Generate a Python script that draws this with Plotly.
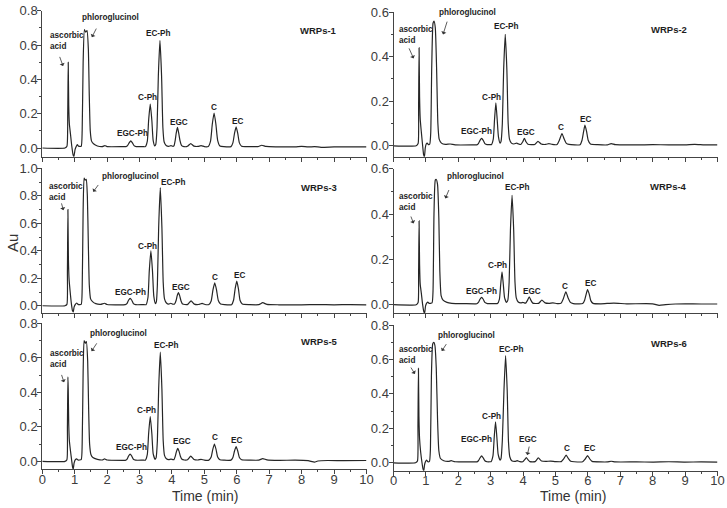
import plotly.graph_objects as go

# ---------------- data ----------------
panel_names = ["WRPs-1", "WRPs-2", "WRPs-3", "WRPs-4", "WRPs-5", "WRPs-6"]
peak_names = ["EGC-Ph", "C-Ph", "EC-Ph", "EGC", "C", "EC"]

# chromatogram samples: (time in min, absorbance in Au)
trace1 = [(0, 0), (0.70, 0), (0.76, 0.01), (0.785, 0.2), (0.80, 0.50), (0.815, 0.25), (0.835, 0.14), (0.87, 0.08),
          (0.91, 0.01), (0.95, -0.04), (0.975, -0.05), (1.01, -0.01), (1.05, 0.01), (1.08, 0.02), (1.12, 0.01), (1.20, 0.01),
          (1.23, 0.1), (1.26, 0.5), (1.30, 0.69), (1.34, 0.675), (1.38, 0.685), (1.42, 0.58), (1.45, 0.3), (1.48, 0.1),
          (1.52, 0.04), (1.58, 0.025), (1.7, 0.012), (1.85, 0.008), (1.93, 0.014), (2.0, 0.008), (2.5, 0.008),
          (2.58, 0.008), (2.63, 0.014), (2.68, 0.03), (2.73, 0.042), (2.78, 0.03), (2.83, 0.014), (2.90, 0.008), (3.1, 0.008),
          (3.18, 0.008), (3.24, 0.04), (3.28, 0.16), (3.33, 0.256), (3.38, 0.16), (3.42, 0.045), (3.47, 0.012), (3.50, 0.02),
          (3.54, 0.12), (3.58, 0.42), (3.63, 0.627), (3.68, 0.42), (3.72, 0.12), (3.76, 0.035), (3.82, 0.015), (3.9, 0.01),
          (3.97, 0.014), (4.03, 0.01), (4.06, 0.012), (4.10, 0.045), (4.13, 0.085), (4.17, 0.12), (4.21, 0.085), (4.25, 0.042),
          (4.30, 0.014), (4.37, 0.008), (4.48, 0.01), (4.58, 0.026), (4.68, 0.011), (4.80, 0.009), (4.90, 0.014), (5.0, 0.008),
          (5.12, 0.009), (5.19, 0.04), (5.245, 0.14), (5.30, 0.204), (5.355, 0.14), (5.41, 0.045), (5.48, 0.012), (5.6, 0.008),
          (5.82, 0.008), (5.88, 0.03), (5.93, 0.085), (5.98, 0.123), (6.03, 0.085), (6.08, 0.03), (6.15, 0.01), (6.4, 0.008),
          (6.65, 0.008), (6.77, 0.016), (6.9, 0.009), (7.2, 0.007), (7.8, 0.007), (8.0, 0.01), (8.2, 0.006), (8.4, 0.008),
          (8.6, 0.004), (9.0, 0.006), (9.5, 0.006), (10.0, 0.006)]

trace2 = [(0, 0), (0.70, 0), (0.76, 0.01), (0.775, 0.18), (0.79, 0.44), (0.805, 0.22), (0.825, 0.12), (0.86, 0.06),
          (0.90, 0.0), (0.93, -0.04), (0.955, -0.05), (0.98, -0.01), (1.01, 0.008), (1.04, 0.012), (1.08, 0.005), (1.12, 0.008),
          (1.15, 0.06), (1.18, 0.35), (1.22, 0.55), (1.25, 0.56), (1.29, 0.53), (1.33, 0.35), (1.37, 0.1), (1.41, 0.03),
          (1.48, 0.012), (1.6, 0.006), (1.75, 0.008), (1.9, 0.004), (2.5, 0.004),
          (2.57, 0.004), (2.62, 0.01), (2.67, 0.024), (2.72, 0.033), (2.77, 0.024), (2.82, 0.01), (2.89, 0.005), (3.0, 0.005),
          (3.02, 0.005), (3.08, 0.03), (3.12, 0.12), (3.16, 0.193), (3.20, 0.12), (3.24, 0.04), (3.29, 0.012), (3.32, 0.02),
          (3.36, 0.10), (3.40, 0.34), (3.45, 0.50), (3.50, 0.34), (3.54, 0.10), (3.58, 0.03), (3.64, 0.012), (3.72, 0.008),
          (3.80, 0.012), (3.86, 0.008), (3.93, 0.006), (3.99, 0.018), (4.04, 0.033), (4.09, 0.018), (4.15, 0.007),
          (4.36, 0.006), (4.46, 0.02), (4.56, 0.008), (4.7, 0.006), (4.8, 0.01), (4.9, 0.006),
          (5.05, 0.006), (5.12, 0.025), (5.20, 0.055), (5.27, 0.03), (5.33, 0.012), (5.42, 0.006),
          (5.76, 0.005), (5.82, 0.025), (5.87, 0.065), (5.91, 0.093), (5.96, 0.065), (6.01, 0.025), (6.08, 0.008), (6.3, 0.005),
          (6.6, 0.004), (6.72, 0.01), (6.85, 0.005), (7.5, 0.004), (8.0, 0.005), (8.5, 0.004), (9.0, 0.004), (9.3, 0.006),
          (9.6, 0.004), (10.0, 0.004)]

trace3 = [(0, 0), (0.70, 0), (0.76, 0.01), (0.775, 0.25), (0.79, 0.70), (0.805, 0.35), (0.825, 0.2), (0.86, 0.1),
          (0.90, 0.01), (0.93, -0.035), (0.955, -0.045), (0.98, -0.01), (1.02, 0.01), (1.06, 0.02), (1.10, 0.01), (1.20, 0.01),
          (1.23, 0.12), (1.26, 0.7), (1.29, 0.93), (1.32, 0.915), (1.355, 0.92), (1.39, 0.8), (1.42, 0.45), (1.45, 0.15),
          (1.49, 0.05), (1.55, 0.03), (1.65, 0.015), (1.8, 0.01), (1.92, 0.018), (2.0, 0.009), (2.5, 0.007),
          (2.56, 0.008), (2.61, 0.016), (2.66, 0.04), (2.71, 0.053), (2.76, 0.04), (2.81, 0.016), (2.88, 0.008), (3.1, 0.008),
          (3.2, 0.008), (3.26, 0.06), (3.30, 0.25), (3.35, 0.40), (3.40, 0.25), (3.44, 0.07), (3.49, 0.015), (3.52, 0.03),
          (3.55, 0.15), (3.59, 0.57), (3.64, 0.86), (3.69, 0.57), (3.73, 0.17), (3.77, 0.05), (3.83, 0.02), (3.9, 0.012),
          (3.96, 0.018), (4.02, 0.012), (4.08, 0.012), (4.13, 0.04), (4.16, 0.072), (4.2, 0.095), (4.24, 0.072), (4.28, 0.035),
          (4.33, 0.012), (4.4, 0.009), (4.49, 0.01), (4.59, 0.036), (4.69, 0.012), (4.82, 0.009), (4.93, 0.017), (5.02, 0.009),
          (5.14, 0.009), (5.21, 0.035), (5.265, 0.115), (5.32, 0.167), (5.375, 0.115), (5.43, 0.038), (5.5, 0.012), (5.62, 0.008),
          (5.84, 0.008), (5.9, 0.04), (5.95, 0.125), (6.0, 0.18), (6.05, 0.125), (6.1, 0.04), (6.17, 0.012), (6.4, 0.008),
          (6.68, 0.008), (6.8, 0.022), (6.93, 0.01), (7.3, 0.007), (8.0, 0.007), (8.5, 0.008), (9.0, 0.007), (9.5, 0.008),
          (10.0, 0.007)]

trace4 = [(0, 0), (0.70, 0), (0.76, 0.01), (0.775, 0.14), (0.79, 0.37), (0.805, 0.18), (0.825, 0.09), (0.86, 0.05),
          (0.90, 0.0), (0.935, -0.03), (0.96, -0.038), (0.99, -0.005), (1.03, 0.008), (1.06, 0.012), (1.10, 0.006), (1.19, 0.008),
          (1.22, 0.06), (1.25, 0.4), (1.29, 0.55), (1.32, 0.553), (1.36, 0.53), (1.40, 0.38), (1.43, 0.15), (1.47, 0.04),
          (1.53, 0.02), (1.65, 0.01), (1.8, 0.006), (2.0, 0.005), (2.5, 0.004),
          (2.57, 0.004), (2.62, 0.01), (2.67, 0.024), (2.72, 0.032), (2.77, 0.024), (2.82, 0.01), (2.9, 0.005), (3.1, 0.005),
          (3.21, 0.005), (3.27, 0.025), (3.31, 0.09), (3.35, 0.145), (3.39, 0.09), (3.43, 0.03), (3.49, 0.01), (3.53, 0.02),
          (3.57, 0.1), (3.61, 0.33), (3.66, 0.483), (3.71, 0.33), (3.75, 0.1), (3.79, 0.03), (3.85, 0.012), (3.93, 0.008),
          (4.0, 0.01), (4.06, 0.007), (4.08, 0.007), (4.14, 0.02), (4.19, 0.035), (4.24, 0.02), (4.3, 0.007),
          (4.48, 0.006), (4.58, 0.02), (4.68, 0.008), (4.8, 0.006), (4.92, 0.008), (5.05, 0.005),
          (5.17, 0.006), (5.24, 0.025), (5.32, 0.057), (5.39, 0.03), (5.46, 0.01), (5.55, 0.005),
          (5.84, 0.005), (5.9, 0.02), (5.95, 0.048), (5.99, 0.067), (6.04, 0.048), (6.09, 0.018), (6.16, 0.006), (6.4, 0.004),
          (6.8, 0.007), (7.2, 0.004), (8.0, 0.004), (8.2, -0.003), (8.4, 0.0), (8.7, 0.003), (9.0, 0.004), (9.5, 0.003),
          (10.0, 0.003)]

trace5 = [(0, 0), (0.70, 0), (0.76, 0.01), (0.775, 0.2), (0.79, 0.49), (0.80, 0.42), (0.815, 0.22), (0.835, 0.12),
          (0.87, 0.06), (0.91, 0.0), (0.935, -0.035), (0.955, -0.045), (0.98, -0.01), (1.02, 0.01), (1.06, 0.015), (1.1, 0.008),
          (1.2, 0.01), (1.23, 0.1), (1.26, 0.52), (1.29, 0.70), (1.325, 0.685), (1.36, 0.695), (1.40, 0.58), (1.43, 0.3),
          (1.46, 0.1), (1.5, 0.04), (1.56, 0.022), (1.7, 0.012), (1.85, 0.008), (1.92, 0.014), (2.0, 0.008), (2.5, 0.006),
          (2.56, 0.006), (2.61, 0.012), (2.66, 0.03), (2.71, 0.042), (2.76, 0.03), (2.81, 0.012), (2.88, 0.007), (3.1, 0.007),
          (3.18, 0.007), (3.24, 0.04), (3.28, 0.16), (3.33, 0.26), (3.38, 0.16), (3.42, 0.045), (3.48, 0.012), (3.51, 0.02),
          (3.55, 0.12), (3.59, 0.42), (3.64, 0.633), (3.69, 0.42), (3.73, 0.12), (3.77, 0.035), (3.83, 0.015), (3.9, 0.01),
          (3.97, 0.013), (4.03, 0.01), (4.06, 0.01), (4.11, 0.035), (4.14, 0.058), (4.18, 0.075), (4.22, 0.058), (4.26, 0.03),
          (4.31, 0.012), (4.38, 0.008), (4.48, 0.009), (4.58, 0.03), (4.68, 0.011), (4.8, 0.008), (4.9, 0.012), (5.0, 0.007),
          (5.14, 0.007), (5.21, 0.025), (5.26, 0.07), (5.31, 0.10), (5.36, 0.07), (5.41, 0.025), (5.48, 0.009), (5.6, 0.007),
          (5.82, 0.007), (5.88, 0.022), (5.93, 0.06), (5.98, 0.085), (6.03, 0.06), (6.08, 0.022), (6.15, 0.009), (6.4, 0.007),
          (6.68, 0.007), (6.8, 0.016), (6.93, 0.009), (7.3, 0.006), (7.8, 0.007), (8.2, 0.004), (8.4, -0.004), (8.5, 0.002),
          (8.8, 0.005), (9.3, 0.004), (10.0, 0.005)]

trace6 = [(0, 0), (0.68, 0), (0.74, 0.01), (0.755, 0.22), (0.77, 0.548), (0.785, 0.27), (0.805, 0.14), (0.84, 0.06),
          (0.88, 0.0), (0.91, -0.035), (0.935, -0.046), (0.96, -0.01), (0.99, 0.008), (1.02, 0.015), (1.06, 0.006), (1.11, 0.008),
          (1.14, 0.08), (1.17, 0.5), (1.21, 0.69), (1.245, 0.70), (1.28, 0.68), (1.32, 0.55), (1.36, 0.25), (1.40, 0.07),
          (1.45, 0.025), (1.55, 0.012), (1.7, 0.008), (1.78, 0.012), (1.9, 0.006), (2.5, 0.005),
          (2.57, 0.005), (2.62, 0.012), (2.67, 0.028), (2.72, 0.04), (2.77, 0.028), (2.82, 0.012), (2.89, 0.006), (3.0, 0.006),
          (3.01, 0.006), (3.07, 0.04), (3.11, 0.15), (3.15, 0.238), (3.19, 0.15), (3.23, 0.05), (3.29, 0.015), (3.32, 0.025),
          (3.36, 0.13), (3.41, 0.42), (3.46, 0.622), (3.51, 0.42), (3.55, 0.12), (3.59, 0.035), (3.65, 0.012), (3.75, 0.008),
          (3.82, 0.012), (3.9, 0.007), (3.99, 0.006), (4.05, 0.018), (4.10, 0.03), (4.15, 0.018), (4.21, 0.007),
          (4.37, 0.007), (4.47, 0.028), (4.57, 0.01), (4.7, 0.008), (4.85, 0.01), (5.0, 0.007),
          (5.18, 0.007), (5.25, 0.022), (5.33, 0.045), (5.4, 0.024), (5.47, 0.009), (5.58, 0.006),
          (5.84, 0.006), (5.91, 0.02), (5.99, 0.042), (6.06, 0.022), (6.13, 0.008), (6.4, 0.005),
          (6.6, 0.005), (6.72, 0.009), (6.85, 0.005), (7.5, 0.005), (8.0, 0.004), (8.5, 0.006), (9.0, 0.004), (9.5, 0.005),
          (10.0, 0.004)]

traces = [trace1, trace2, trace3, trace4, trace5, trace6]

x_ticks = [0, 1, 2, 3, 4, 5, 6, 7, 8, 9, 10]
y_tops = [0.8, 0.6, 1.0, 0.6, 0.8, 0.8]

# ---------------- layout spec ----------------
y_bottoms = [-0.0507, -0.049, -0.055, -0.038, -0.046, -0.046]
col_dom = [[42.3 / 727, 366.5 / 727], [393.5 / 727, 717.5 / 727]]
row_px = [(10.7, 156.7), (12.0, 156.7), (168.3, 313.3), (168.7, 313.3), (323.3, 469.3), (325.0, 470.7)]

place = [
    dict(asc=(0.18, 0.626), asc_ar=((0.64, 0.478), (0.52, 0.54)), phl=(2.09, 0.763), phl_ar=((1.53, 0.646), (1.69, 0.705)),
         peaks=[(2.77, 0.087), (3.26, 0.297), (3.60, 0.67), (4.22, 0.151), (5.30, 0.239), (6.01, 0.157)], name=(8.51, 0.687)),
    dict(asc=(0.10, 0.497), asc_ar=((0.62, 0.392), (0.46, 0.444)), phl=(2.27, 0.597), phl_ar=((1.53, 0.50), (1.67, 0.564)),
         peaks=[(2.55, 0.063), (3.02, 0.217), (3.50, 0.534), (4.10, 0.06), (5.18, 0.081), (5.92, 0.12)], name=(8.49, 0.522)),
    dict(asc=(0.14, 0.827), asc_ar=((0.65, 0.696), (0.58, 0.756)), phl=(2.71, 0.938), phl_ar=((1.57, 0.829), (1.76, 0.89)),
         peaks=[(2.73, 0.095), (3.25, 0.434), (4.06, 0.895), (4.28, 0.134), (5.33, 0.206), (6.08, 0.223)], name=(8.55, 0.861)),
    dict(asc=(0.12, 0.453), asc_ar=((0.62, 0.359), (0.52, 0.396)), phl=(2.52, 0.565), phl_ar=((1.60, 0.469), (1.73, 0.513)),
         peaks=[(2.73, 0.06), (3.21, 0.171), (3.83, 0.518), (4.29, 0.06), (5.30, 0.082), (6.08, 0.094)], name=(8.49, 0.52)),
    dict(asc=(0.17, 0.592), asc_ar=((0.67, 0.458), (0.58, 0.51)), phl=(2.35, 0.742), phl_ar=((1.52, 0.639), (1.71, 0.693)),
         peaks=[(2.76, 0.081), (3.22, 0.297), (3.84, 0.674), (4.30, 0.118), (5.33, 0.139), (5.98, 0.123)], name=(8.55, 0.697)),
    dict(asc=(0.12, 0.626), asc_ar=((0.66, 0.516), (0.51, 0.562)), phl=(2.24, 0.737), phl_ar=((1.49, 0.649), (1.66, 0.698)),
         peaks=[(2.57, 0.138), (3.03, 0.271), (3.65, 0.659), (4.16, 0.138), (5.35, 0.084), (6.05, 0.084)], name=(8.51, 0.694),
         egc_ar=((4.13, 0.045), (4.20, 0.103))),
]

FONT = "Liberation Sans, Arial, sans-serif"
AX_COL = "#444444"
LINE_COL = "#262626"

fig = go.Figure()
annotations = []
layout = dict(width=727, height=508, margin=dict(l=0, r=0, t=0, b=0, autoexpand=False),
              paper_bgcolor="white", plot_bgcolor="white", showlegend=False)

for i, tr in enumerate(traces):
    n = i + 1
    col = i % 2
    sfx = "" if n == 1 else str(n)
    xs = [p[0] for p in tr]
    ys = [p[1] for p in tr]
    fig.add_trace(go.Scatter(x=xs, y=ys, mode="lines", xaxis="x" + sfx, yaxis="y" + sfx,
                             line=dict(color=LINE_COL, width=1.2, shape="spline", smoothing=0.5),
                             hoverinfo="skip", cliponaxis=False))
    top, bot = row_px[i]
    bottom_row = i >= 4
    layout["xaxis" + sfx] = dict(
        domain=col_dom[col], anchor="y" + sfx, range=[0, 10.002], automargin=False,
        tickmode="array", tickvals=x_ticks, ticktext=[str(v) for v in x_ticks],
        showline=True, linecolor=AX_COL, linewidth=1, mirror=False,
        ticks="outside", ticklen=4, tickwidth=1, tickcolor=AX_COL, ticklabelstandoff=-6,
        minor=dict(ticks="outside", ticklen=2, tickwidth=1, tickcolor=AX_COL, dtick=0.5, tick0=0),
        showgrid=False, zeroline=False, showticklabels=bottom_row,
        tickfont=dict(family=FONT, size=13, color="#3c3c3c"))
    layout["yaxis" + sfx] = dict(
        domain=[1 - bot / 508, 1 - top / 508], anchor="x" + sfx, automargin=False,
        range=[y_bottoms[i], y_tops[i] + 0.0005],
        dtick=0.2, tick0=0, tickformat=".1f",
        showline=True, linecolor=AX_COL, linewidth=1,
        ticks="outside", ticklen=4, tickwidth=1, tickcolor=AX_COL, ticklabelstandoff=-3,
        minor=dict(ticks="outside", ticklen=2, tickwidth=1, tickcolor=AX_COL, dtick=0.1, tick0=0),
        showgrid=False, zeroline=False,
        tickfont=dict(family=FONT, size=13, color="#3c3c3c"))

    pl = place[i]
    xr, yr = "x" + sfx, "y" + sfx
    lab_font = dict(family=FONT, size=8.2, color="#1e1e1e")
    annotations.append(dict(x=pl["asc"][0], y=pl["asc"][1], xref=xr, yref=yr, text="<b>ascorbic<br>acid</b>",
                            showarrow=False, xanchor="left", yanchor="middle", align="left", font=lab_font))
    annotations.append(dict(x=pl["phl"][0], y=pl["phl"][1], xref=xr, yref=yr, text="<b>phloroglucinol</b>",
                            showarrow=False, xanchor="center", yanchor="middle", font=lab_font))
    arrows = [pl["asc_ar"], pl["phl_ar"]] + ([pl["egc_ar"]] if "egc_ar" in pl else [])
    for head, tail in arrows:
        annotations.append(dict(x=head[0], y=head[1], ax=tail[0], ay=tail[1], xref=xr, yref=yr, axref=xr, ayref=yr,
                                text="", showarrow=True, arrowhead=1, arrowsize=1.1, arrowwidth=0.8,
                                arrowcolor="#333333"))
    for name, (px, py) in zip(peak_names, pl["peaks"]):
        annotations.append(dict(x=px, y=py, xref=xr, yref=yr, text="<b>" + name + "</b>",
                                showarrow=False, xanchor="center", yanchor="middle", font=lab_font))
    annotations.append(dict(x=pl["name"][0], y=pl["name"][1], xref=xr, yref=yr, text="<b>" + panel_names[i] + "</b>",
                            showarrow=False, xanchor="center", yanchor="middle",
                            font=dict(family=FONT, size=9.5, color="#1e1e1e")))

# axis titles
annotations.append(dict(x=12 / 727, y=1 - 243 / 508, xref="paper", yref="paper", text="Au", textangle=-90,
                        xanchor="center", yanchor="middle",
                        showarrow=False, font=dict(family=FONT, size=15, color="#333333")))
for cx in (205 / 727, 573 / 727):
    annotations.append(dict(x=cx, y=1 - 496 / 508, xref="paper", yref="paper", text="Time (min)",
                            xanchor="center", yanchor="middle",
                            showarrow=False, font=dict(family=FONT, size=14, color="#333333")))

layout["annotations"] = annotations
fig.update_layout(**layout)
fig.write_html("out.html", config={"displayModeBar": False, "staticPlot": True},
               post_script="document.body.style.margin='0px';document.body.style.padding='0px';")
